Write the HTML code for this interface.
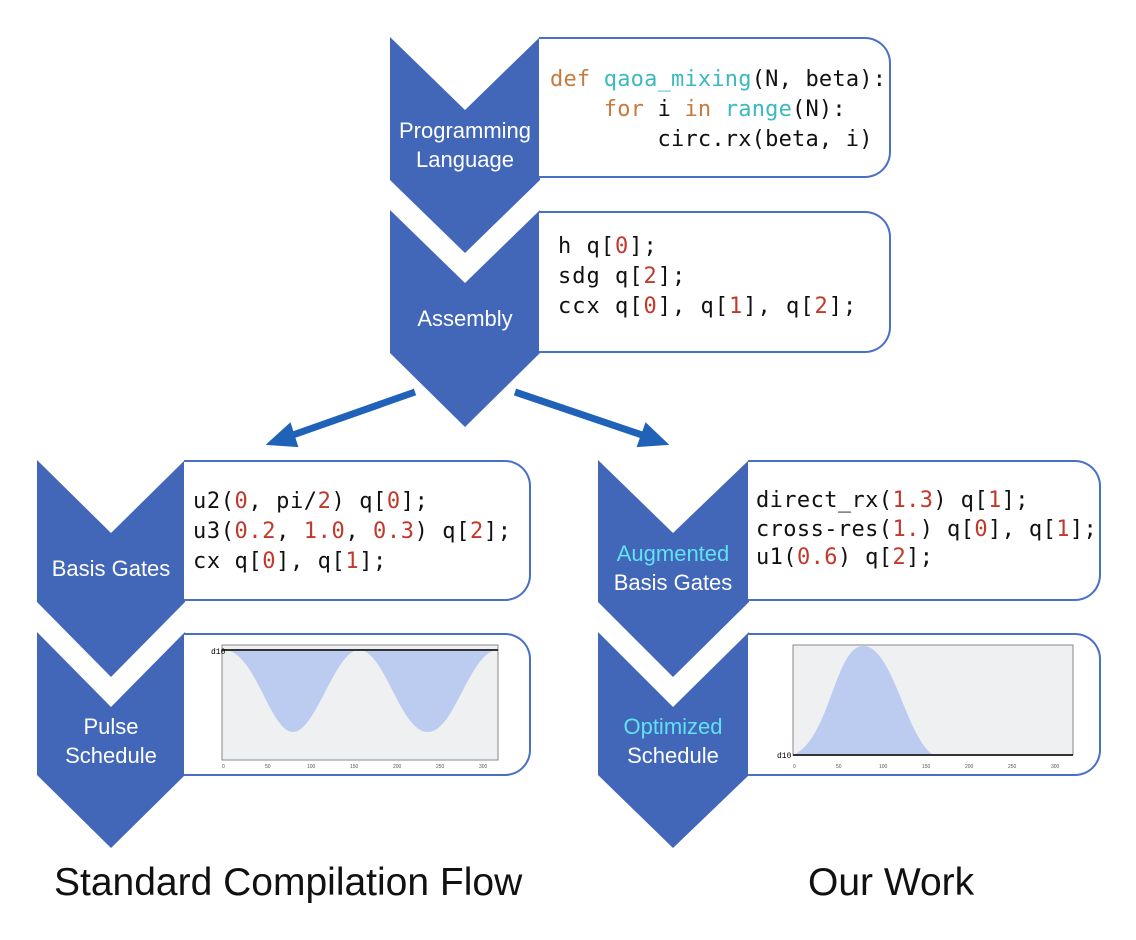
<!DOCTYPE html>
<html><head><meta charset="utf-8"><style>
body{margin:0;background:#fff;width:1136px;height:940px;overflow:hidden;position:relative;font-family:"Liberation Sans",sans-serif}
.box{position:absolute;border:2px solid #4a6fc6;border-left:none;border-radius:0 26px 26px 0;background:#fff;box-sizing:border-box}
.code{position:absolute;font-family:"DejaVu Sans Mono","Liberation Mono",monospace;font-size:22px;line-height:30px;color:#111;white-space:pre;letter-spacing:0.4px}
.r{color:#c0392b}.o{color:#c87a3c}.c{color:#3bb8c0}
.lab{position:absolute;color:#fff;font-size:22px;text-align:center;width:150px;line-height:29px}
.cy{color:#5fe3f2}
.t{position:absolute;font-size:39px;color:#111}
</style></head><body>
<svg width="1136" height="940" style="position:absolute;left:0;top:0">
<g fill="#4266b8">
<polygon points="390,37 465,110 540,37 540,180 465,253 390,180"/>
<polygon points="390,210 465,283 540,210 540,353 465,427 390,353"/>
<polygon points="37,460 111,533 185,460 185,602 111,677 37,602"/>
<polygon points="37,632 111,707 185,632 185,775 111,848 37,775"/>
<polygon points="598,460 673,533 749,460 749,602 673,677 598,602"/>
<polygon points="598,632 673,707 749,632 749,775 673,848 598,775"/>
</g>
<g stroke="#1f62b8" stroke-width="7" fill="#1f62b8">
<line x1="415" y1="392" x2="290" y2="436"/>
<polygon points="268,444 290,424 297,446" stroke-width="2"/>
<line x1="515" y1="392" x2="645" y2="436"/>
<polygon points="667,444 638,446 646,424" stroke-width="2"/>
</g>
</svg>
<div class="box" style="left:539px;top:37px;width:352px;height:141px"></div>
<div class="box" style="left:539px;top:211px;width:352px;height:142px"></div>
<div class="box" style="left:184px;top:460px;width:347px;height:141px"></div>
<div class="box" style="left:184px;top:633px;width:347px;height:143px"></div>
<div class="box" style="left:748px;top:460px;width:353px;height:141px"></div>
<div class="box" style="left:748px;top:633px;width:353px;height:143px"></div>

<div class="code" style="left:550px;top:65px;letter-spacing:0.2px"><span class="o">def</span> <span class="c">qaoa_mixing</span>(N, beta):
    <span class="o">for</span> i <span class="o">in</span> <span class="c">range</span>(N):
        circ.rx(beta, i)</div>
<div class="code" style="left:558px;top:232px;letter-spacing:1px">h q[<span class="r">0</span>];
sdg q[<span class="r">2</span>];
ccx q[<span class="r">0</span>], q[<span class="r">1</span>], q[<span class="r">2</span>];</div>
<div class="code" style="left:193px;top:487px;letter-spacing:0.6px">u2(<span class="r">0</span>, pi/<span class="r">2</span>) q[<span class="r">0</span>];
u3(<span class="r">0.2</span>, <span class="r">1.0</span>, <span class="r">0.3</span>) q[<span class="r">2</span>];
cx q[<span class="r">0</span>], q[<span class="r">1</span>];</div>
<div class="code" style="left:756px;top:487px;line-height:28.5px">direct_rx(<span class="r">1.3</span>) q[<span class="r">1</span>];
cross-res(<span class="r">1.</span>) q[<span class="r">0</span>], q[<span class="r">1</span>];
u1(<span class="r">0.6</span>) q[<span class="r">2</span>];</div>

<div class="lab" style="left:390px;top:116px">Programming<br>Language</div>
<div class="lab" style="left:390px;top:304px">Assembly</div>
<div class="lab" style="left:36px;top:554px">Basis Gates</div>
<div class="lab" style="left:36px;top:712px">Pulse<br>Schedule</div>
<div class="lab" style="left:598px;top:539px"><span class="cy">Augmented</span><br>Basis Gates</div>
<div class="lab" style="left:598px;top:712px"><span class="cy">Optimized</span><br>Schedule</div>

<svg width="1136" height="940" style="position:absolute;left:0;top:0">
<rect x="222" y="645" width="276" height="115" fill="#eff0f2" stroke="#888" stroke-width="1"/>
<path d="M224,650 C255,650 270,732 293,732 C316,732 335,650 359,650 C385,650 400,732 428,732 C455,732 470,650 498,650 Z" fill="#bccbf0"/>
<line x1="222" y1="650" x2="498" y2="650" stroke="#333" stroke-width="2"/>
<text x="211" y="654" font-size="8" font-family="Liberation Mono">d10</text>
<g font-size="5" fill="#555" font-family="Liberation Sans"><text x="222" y="768">0</text><text x="265" y="768">50</text><text x="307" y="768">100</text><text x="350" y="768">150</text><text x="393" y="768">200</text><text x="436" y="768">250</text><text x="479" y="768">300</text></g>
<rect x="793" y="645" width="280" height="110" fill="#eff0f2" stroke="#888" stroke-width="1"/>
<path d="M793,755 C830,740 835,646 863,646 C893,646 905,735 933,755 Z" fill="#bccbf0"/>
<line x1="793" y1="755" x2="1073" y2="755" stroke="#333" stroke-width="2"/>
<text x="777" y="758" font-size="8" font-family="Liberation Mono">d10</text>
<g font-size="5" fill="#555" font-family="Liberation Sans"><text x="793" y="768">0</text><text x="836" y="768">50</text><text x="879" y="768">100</text><text x="922" y="768">150</text><text x="965" y="768">200</text><text x="1008" y="768">250</text><text x="1051" y="768">300</text></g>
</svg>

<div class="t" style="left:54px;top:861px">Standard Compilation Flow</div>
<div class="t" style="left:808px;top:861px">Our Work</div>
</body></html>
